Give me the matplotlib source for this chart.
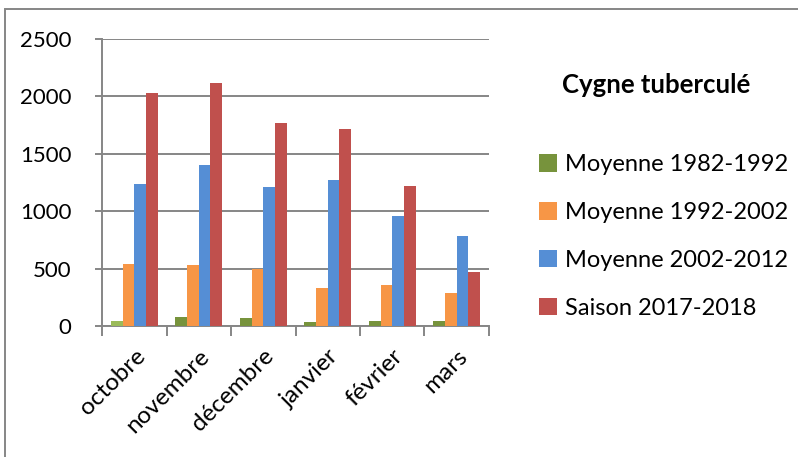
import matplotlib
matplotlib.use("Agg")
import matplotlib.pyplot as plt
import numpy as np
from matplotlib.patches import Patch, Rectangle

plt.rcParams['font.family'] = ['Lato', 'DejaVu Sans']

months = ['octobre', 'novembre', 'décembre', 'janvier', 'février', 'mars']
series = ['Moyenne 1982-1992', 'Moyenne 1992-2002', 'Moyenne 2002-2012', 'Saison 2017-2018']
moy_1982_1992 = [45, 75, 72, 38, 42, 45]
moy_1992_2002 = [537, 531, 494, 334, 360, 287]
moy_2002_2012 = [1234, 1400, 1213, 1269, 961, 781]
saison_2017_2018 = [2027, 2117, 1771, 1713, 1222, 468]
colors = ['#77933C', '#F79646', '#558ED5', '#C0504D']

values = [moy_1982_1992, moy_1992_2002, moy_2002_2012, saison_2017_2018]

fig = plt.figure(figsize=(7.98, 4.57), dpi=100)
ax = fig.add_axes([102 / 798, 1 - 326 / 457, 387 / 798, (326 - 39) / 457])

x = np.arange(len(months))
w = 0.181
for i, (vals, col) in enumerate(zip(values, colors)):
    ax.bar(x + (i - 1.5) * w, vals, w, color=col, zorder=3)
# first green bar is lighter in the original
ax.patches[0].set_facecolor('#9BBB59')

grid = '#868686'
ax.set_xlim(-0.5, 5.5)
ax.set_ylim(0, 2500)
ax.set_yticks(range(0, 2501, 500))
ax.yaxis.grid(True, color=grid, linewidth=1.4, zorder=0)
for s in ['top', 'right']:
    ax.spines[s].set_visible(False)
for s in ['left', 'bottom']:
    ax.spines[s].set_color(grid)
    ax.spines[s].set_linewidth(1.4)
ax.tick_params(axis='y', length=5, width=1.4, color=grid, labelsize=16, pad=17)
ax.set_xticks(x)
ax.set_xticklabels(months, rotation=45, ha='right', rotation_mode='anchor')
ax.tick_params(axis='x', which='major', length=0, labelsize=17.5, pad=14)
ax.set_xticks(np.arange(-0.5, 6, 1), minor=True)
ax.tick_params(axis='x', which='minor', length=7, width=1.4, color=grid)

fig.text(656 / 798, 1 - 85 / 457, 'Cygne tuberculé', ha='center', va='center',
         fontsize=18.5, fontweight='bold')

handles = [Patch(facecolor=c) for c in colors]
fig.legend(handles, series, loc='upper left', bbox_to_anchor=(518 / 798, 1 - 133 / 457),
           frameon=False, fontsize=17, handlelength=0.75, handleheight=0.75,
           handletextpad=0.35, labelspacing=1.14)

fig.patches.append(Rectangle((5 / 798, -0.1), 1.2, 1 - 9 / 457 + 0.1, transform=fig.transFigure,
                             fill=False, edgecolor=grid, linewidth=1.4))

fig.savefig('out.png', dpi=100)
